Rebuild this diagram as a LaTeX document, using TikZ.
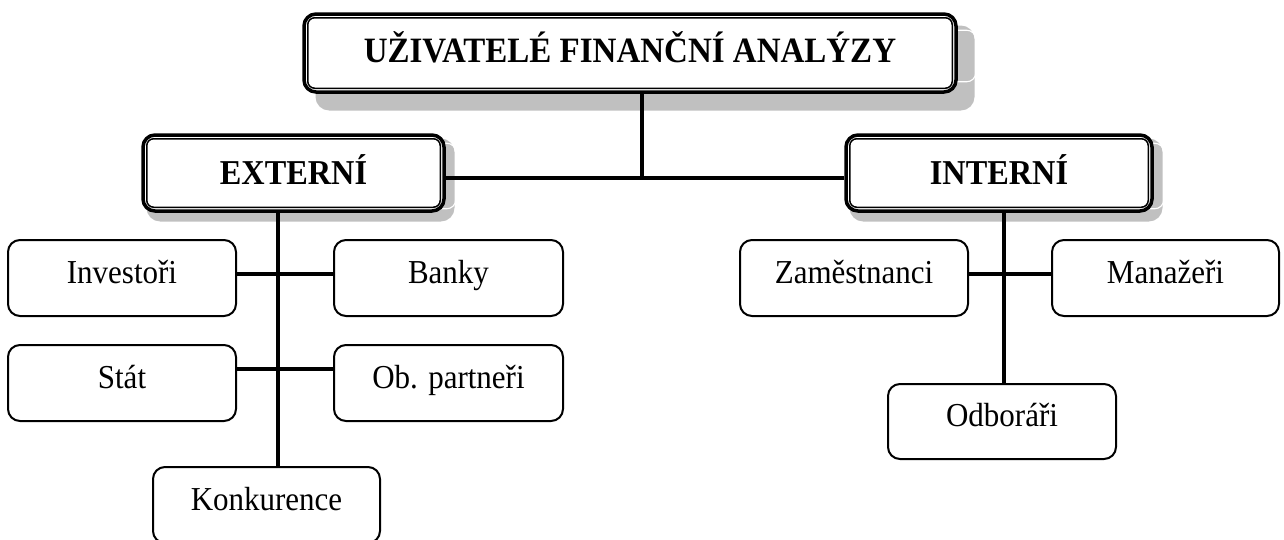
\documentclass[tikz,border=0pt]{standalone}
\usepackage{fontspec}
\usepackage{graphicx}
\setmainfont{Liberation Serif}
\usetikzlibrary{calc}
\pgfdeclarelayer{background}
\pgfsetlayers{background,main}
\definecolor{shadowgray}{RGB}{192,192,192}
\newcommand{\tallText}[1]{\scalebox{1}[1.08]{#1}}
\tikzset{
  bigbox/.style={draw=black, line width=3.5pt, rounded corners=12pt, fill=white,
    inner sep=0pt, font=\bfseries\fontsize{32.3}{36}\selectfont},
  smallbox/.style={draw=black, line width=2pt, rounded corners=12pt, fill=white,
    inner sep=0pt, minimum height=76pt, font=\fontsize{31}{36}\selectfont,
    text height=25pt, text depth=15pt},
  innerline/.style={draw=black, line width=1.5pt, rounded corners=7pt},
  shadowfill/.style={fill=shadowgray, draw=shadowgray, line width=3.5pt, rounded corners=12pt},
  shadowgap/.style={draw=white, line width=1.1pt, rounded corners=9pt},
  conn/.style={draw=black, line width=3.8pt},
}
\begin{document}
\begin{tikzpicture}[x=1pt,y=1pt]
\useasboundingbox (0,0) rectangle (1284,-539);

% main boxes
\node[bigbox, minimum width=652pt, minimum height=78pt, text height=27pt, text depth=9pt,
  font=\bfseries\fontsize{33}{36}\selectfont]
  (t) at (630,-53) {\tallText{UŽIVATELÉ FINANČNÍ ANALÝZY}};
\node[bigbox, minimum width=301pt, minimum height=76pt, text height=28pt, text depth=6pt]
  (e) at (293.5,-173) {\tallText{EXTERNÍ}};
\node[bigbox, minimum width=306pt, minimum height=76pt, text height=28pt, text depth=6pt]
  (i) at (999,-173) {\tallText{INTERNÍ}};

% inner thin lines of the double borders
\foreach \n in {t,e,i}{
  \draw[innerline] ([shift={(5.5,-5.5)}]\n.north west) rectangle ([shift={(-5.5,5.5)}]\n.south east);
}

% shadows
\begin{pgfonlayer}{background}
  \path[shadowfill] ([shift={(15,-15)}]t.north west) rectangle ([shift={(15,-15)}]t.south east);
  \draw[shadowgap] ([shift={(12,-18)}]t.north west) rectangle ([shift={(18,12)}]t.south east);
  \foreach \n in {e,i}{
    \path[shadowfill] ([shift={(7,-7)}]\n.north west) rectangle ([shift={(7,-7)}]\n.south east);
    \draw[shadowgap] ([shift={(4,-10)}]\n.north west) rectangle ([shift={(10,4)}]\n.south east);
  }
\end{pgfonlayer}

% small boxes
\node[smallbox, minimum width=228pt] (inv) at (122,-278) {\tallText{Investoři}};
\node[smallbox, minimum width=229pt] (ban) at (448.5,-278) {\tallText{Banky}};
\node[smallbox, minimum width=228pt] (sta) at (122,-383) {\tallText{Stát}};
\node[smallbox, minimum width=229pt] (obp) at (448.5,-383) {\tallText{Ob. partneři}};
\node[smallbox, minimum width=227pt] (kon) at (266.5,-505) {\tallText{Konkurence}};
\node[smallbox, minimum width=228pt] (zam) at (854,-278) {\tallText{Zaměstnanci}};
\node[smallbox, minimum width=227pt] (man) at (1165.5,-278) {\tallText{Manažeři}};
\node[smallbox, minimum width=228pt, minimum height=75pt, text height=25pt, text depth=16pt]
  (odb) at (1002,-421.5) {\tallText{Odboráři}};

% junction coordinates
\coordinate (j) at (642,-178);
\coordinate (ev) at (278,0);
\coordinate (iv) at (1004,0);
\coordinate (h1) at (0,-274);
\coordinate (h2) at (0,-369);
\coordinate (h3) at (0,-274);

% connectors
\draw[conn] (t.south -| j) -- (j);
\draw[conn] (e.east |- j) -- (i.west |- j);
\draw[conn] (e.south -| ev) -- (kon.north -| ev);
\draw[conn] (inv.east |- h1) -- (ban.west |- h1);
\draw[conn] (sta.east |- h2) -- (obp.west |- h2);
\draw[conn] (i.south -| iv) -- (odb.north -| iv);
\draw[conn] (zam.east |- h3) -- (man.west |- h3);
\end{tikzpicture}
\end{document}
